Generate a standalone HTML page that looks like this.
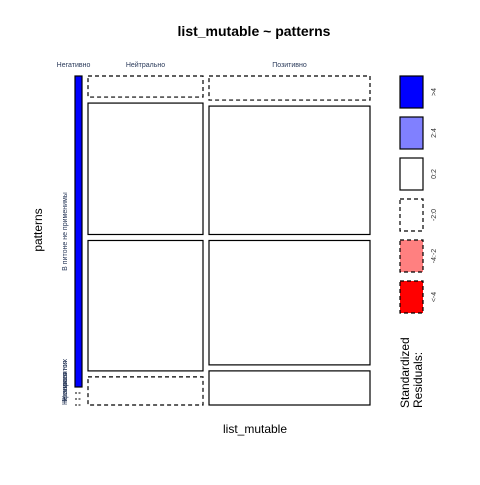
<!DOCTYPE html>
<html><head><meta charset="utf-8"><style>
body{margin:0;background:#fff;}
svg text{font-family:"Liberation Sans","DejaVu Sans",sans-serif;}
</style></head><body>
<svg id="chart" width="480" height="480" xmlns="http://www.w3.org/2000/svg">
<rect width="480" height="480" fill="#fff"/>
<text x="254" y="36" font-size="14" font-weight="bold" text-anchor="middle">list_mutable ~ patterns</text>
<text x="255" y="433" font-size="12" text-anchor="middle">list_mutable</text>
<text transform="translate(42,230) rotate(-90)" font-size="12" text-anchor="middle">patterns</text>
<g id="cells"></g>
<g id="legend"></g>
</svg>
<script>
const columns = ["Негативно", "Нейтрально", "Позитивно"];
const rows = ["В питоне не применимы", "Не знаю о них", "Нравятся", "Не нравятся"];
const colTotals = [7, 115, 161];
const cellValues = [
  [309, 0, 0, 0],
  [21, 131, 130, 28],
  [24, 128, 124, 34]
];
const residualClass = [
  ["pos4", "dash", "dash", "dash"],
  ["dash", "solid", "solid", "dash"],
  ["dash", "solid", "solid", "solid"]
];
const legendLabels = [">4", "2:4", "0:2", "-2:0", "-4:-2", "<-4"];
const legendClass = ["pos4", "pos2", "solid", "dash", "neg2", "neg4"];

const X0 = 75, GAPX = 6, Y0 = 76, Y1 = 405, GAPY = 6;
const NS = "http://www.w3.org/2000/svg";
function styleFor(c){
  if(c==="pos4") return {fill:"#0000ff", dash:null};
  if(c==="pos2") return {fill:"#8080ff", dash:null};
  if(c==="neg2") return {fill:"#ff8080", dash:"4,3"};
  if(c==="neg4") return {fill:"#ff0000", dash:"4,3"};
  if(c==="dash") return {fill:"none", dash:"4,3"};
  return {fill:"none", dash:null};
}
const cells = document.getElementById("cells");
let x = X0;
colTotals.forEach((w, i) => {
  const lab = document.createElementNS(NS, "text");
  lab.setAttribute("x", x + w/2 + (i===0?-5:0)); lab.setAttribute("y", 67);
  lab.setAttribute("font-size", "7"); lab.setAttribute("fill", "#2a3a5a");
  lab.setAttribute("text-anchor", "middle"); lab.textContent = columns[i];
  
  
  cells.appendChild(lab);
  const vals = cellValues[i];
  const sum = vals.reduce((a,b)=>a+b,0);
  const avail = (Y1 - Y0) - GAPY*(vals.length-1);
  let y = Y0;
  vals.forEach((v, j) => {
    const h = avail * v / sum;
    const st = styleFor(residualClass[i][j]);
    let el;
    if(h < 1){
      el = document.createElementNS(NS, "line");
      el.setAttribute("x1", x); el.setAttribute("x2", x+w);
      el.setAttribute("y1", y); el.setAttribute("y2", y);
      el.setAttribute("stroke", "#000"); el.setAttribute("stroke-dasharray", "2,1.5");
    } else {
      el = document.createElementNS(NS, "rect");
      el.setAttribute("x", x); el.setAttribute("y", y);
      el.setAttribute("width", w); el.setAttribute("height", h);
      el.setAttribute("fill", st.fill === "none" ? "#fff" : st.fill);
      el.setAttribute("stroke", "#000"); el.setAttribute("stroke-width", "1.2");
      if(st.dash) el.setAttribute("stroke-dasharray", st.dash);
    }
    
    
    cells.appendChild(el);
    if(i===0){
      const rl = document.createElementNS(NS, "text");
      const cy = y + h/2;
      rl.setAttribute("transform", `translate(67,${h<1? 405 - (j-1)*2 : cy}) rotate(-90)`);
      rl.setAttribute("font-size", "7"); rl.setAttribute("fill", "#2a3a5a");
      rl.setAttribute("text-anchor", h<1 ? "start" : "middle"); rl.textContent = rows[j];
      
      
      cells.appendChild(rl);
    }
    y += h + GAPY;
  });
  x += w + GAPX;
});
const legend = document.getElementById("legend");
legendLabels.forEach((t, k) => {
  const st = styleFor(legendClass[k]);
  const y = 76 + k*41;
  const r = document.createElementNS(NS, "rect");
  r.setAttribute("x", 400); r.setAttribute("y", y); r.setAttribute("width", 23); r.setAttribute("height", 32);
  r.setAttribute("fill", st.fill === "none" ? "#fff" : st.fill);
  r.setAttribute("stroke", "#000"); r.setAttribute("stroke-width", "1.2");
  if(st.dash) r.setAttribute("stroke-dasharray", st.dash);
  
  
  legend.appendChild(r);
  const tx = document.createElementNS(NS, "text");
  tx.setAttribute("transform", `translate(436,${y+16}) rotate(-90)`);
  tx.setAttribute("font-size", "7"); tx.setAttribute("fill", "#333");
  tx.setAttribute("text-anchor", "middle"); tx.textContent = t;
  
  
  legend.appendChild(tx);
});
const lt = document.createElementNS(NS, "text");
lt.setAttribute("transform", "translate(409,408) rotate(-90)");
lt.setAttribute("font-size", "12");
lt.innerHTML = '<tspan x="0" dy="0">Standardized</tspan><tspan x="0" dy="13">Residuals:</tspan>';


legend.appendChild(lt);
</script>
</body></html>
